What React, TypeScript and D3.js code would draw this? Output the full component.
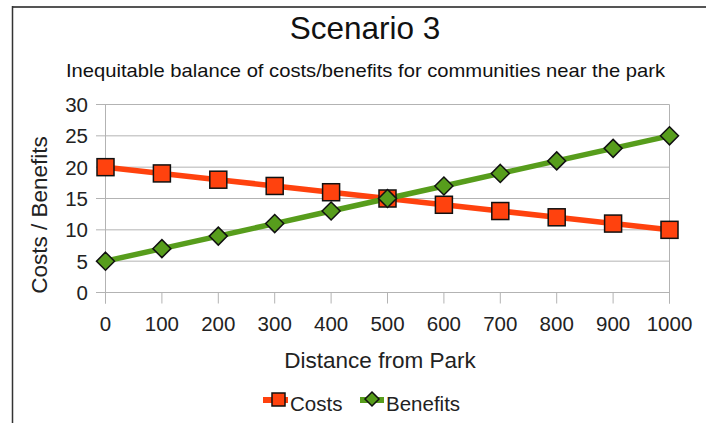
import React from "react";
import * as d3 from "d3";

const distances = [0, 100, 200, 300, 400, 500, 600, 700, 800, 900, 1000];
const costs = [20, 19, 18, 17, 16, 15, 14, 13, 12, 11, 10];
const benefits = [5, 7, 9, 11, 13, 15, 17, 19, 21, 23, 25];
const yTicks = [0, 5, 10, 15, 20, 25, 30];

const COST_COLOR = "#ff420e";
const BENEFIT_COLOR = "#579d1c";
const FONT = "'Liberation Sans', Arial, sans-serif";

export default function App() {
  const W = 706;
  const H = 423;
  const x = d3.scaleLinear().domain([0, 1000]).range([105.5, 669.5]);
  const y = d3.scaleLinear().domain([0, 30]).range([292.5, 104.5]);

  const line = d3
    .line<number>()
    .x((_, i) => x(distances[i]))
    .y((d) => y(d));

  const sq = 17;
  const dm = 9;
  const diamond = (cx: number, cy: number, r: number) =>
    `M${cx},${cy - r}L${cx + r},${cy}L${cx},${cy + r}L${cx - r},${cy}Z`;

  return (
    <svg
      width={W}
      height={H}
      style={{ position: "absolute", left: 0, top: 0, background: "#fff" }}
      fontFamily={FONT}
    >
      {/* frame */}
      <line x1={12} x2={W} y1={7} y2={7} stroke="#555" strokeWidth={2} />
      <line x1={12.5} x2={12.5} y1={6} y2={H} stroke="#333" strokeWidth={1.5} />

      <text x={365} y={39} textAnchor="middle" fontSize={31.5} fill="#111">
        Scenario 3
      </text>
      <text
        x={365.5}
        y={77}
        textAnchor="middle"
        fontSize={19}
        fill="#111"
        textLength={599}
        lengthAdjust="spacingAndGlyphs"
      >
        Inequitable balance of costs/benefits for communities near the park
      </text>

      {/* horizontal gridlines + y ticks */}
      {yTicks.map((t) => (
        <g key={t}>
          <line x1={96} x2={x(1000)} y1={y(t)} y2={y(t)} stroke="#b3b3b3" strokeWidth={1} />
          <text x={88} y={y(t) + 7.5} textAnchor="end" fontSize={20.5} fill="#222">
            {t}
          </text>
        </g>
      ))}
      {/* side walls */}
      <line x1={x(0)} x2={x(0)} y1={y(30)} y2={y(0) + 11} stroke="#b3b3b3" />
      <line x1={x(1000)} x2={x(1000)} y1={y(30)} y2={y(0) + 11} stroke="#b3b3b3" />
      {/* x ticks */}
      {distances.map((d) => (
        <g key={d}>
          <line x1={x(d)} x2={x(d)} y1={y(0)} y2={y(0) + 11} stroke="#b3b3b3" />
          <text x={x(d)} y={331} textAnchor="middle" fontSize={20.5} fill="#222">
            {d}
          </text>
        </g>
      ))}

      <text x={380} y={368} textAnchor="middle" fontSize={22.5} fill="#222">
        Distance from Park
      </text>
      <text
        transform={`translate(47,215) rotate(-90)`}
        textAnchor="middle"
        fontSize={22.5}
        fill="#222"
      >
        Costs / Benefits
      </text>

      {/* series lines */}
      <path d={line(costs) ?? ""} fill="none" stroke={COST_COLOR} strokeWidth={5.5} />
      <path d={line(benefits) ?? ""} fill="none" stroke={BENEFIT_COLOR} strokeWidth={5.5} />

      {/* markers */}
      {costs.map((v, i) => (
        <rect
          key={"c" + i}
          x={x(distances[i]) - sq / 2}
          y={y(v) - sq / 2}
          width={sq}
          height={sq}
          fill={COST_COLOR}
          stroke="#111"
          strokeWidth={1.5}
        />
      ))}
      {benefits.map((v, i) => (
        <path
          key={"b" + i}
          d={diamond(x(distances[i]), y(v), dm)}
          fill={BENEFIT_COLOR}
          stroke="#111"
          strokeWidth={1.5}
        />
      ))}

      {/* legend */}
      <g>
        <line x1={263} x2={288} y1={400} y2={400} stroke={COST_COLOR} strokeWidth={6} />
        <rect x={272} y={393} width={13} height={13} fill={COST_COLOR} stroke="#111" strokeWidth={1.5} />
        <text x={290} y={411} fontSize={20.5} fill="#222">
          Costs
        </text>
        <line x1={360} x2={384} y1={400} y2={400} stroke={BENEFIT_COLOR} strokeWidth={6} />
        <path d={diamond(372, 399, 7)} fill={BENEFIT_COLOR} stroke="#111" strokeWidth={1.5} />
        <text x={386} y={411} fontSize={20.5} fill="#222">
          Benefits
        </text>
      </g>
    </svg>
  );
}
